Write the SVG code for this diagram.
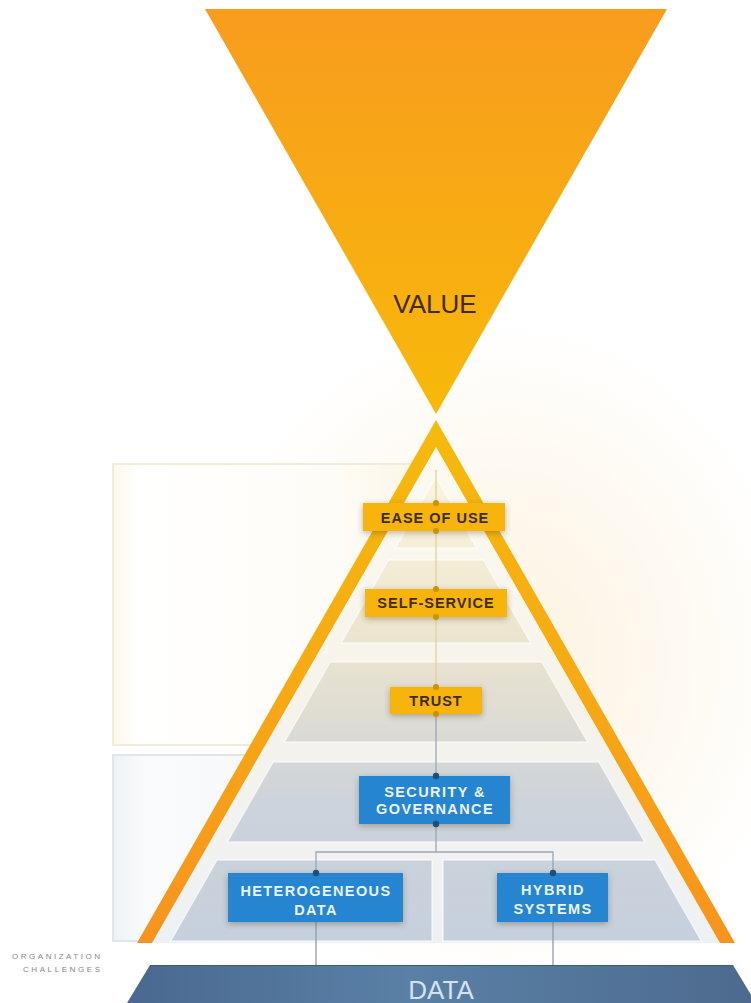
<svg xmlns="http://www.w3.org/2000/svg" width="751" height="1003" viewBox="0 0 751 1003">
  <defs>
    <linearGradient id="gValue" x1="0" y1="9" x2="0" y2="414" gradientUnits="userSpaceOnUse">
      <stop offset="0" stop-color="#f89c1e"/>
      <stop offset="1" stop-color="#f8b90a"/>
    </linearGradient>
    <linearGradient id="gStripe" x1="0" y1="420" x2="0" y2="943" gradientUnits="userSpaceOnUse">
      <stop offset="0" stop-color="#f6ba0c"/>
      <stop offset="0.5" stop-color="#f6aa14"/>
      <stop offset="1" stop-color="#f7931e"/>
    </linearGradient>
    <linearGradient id="gInner" x1="0" y1="447" x2="0" y2="943" gradientUnits="userSpaceOnUse">
      <stop offset="0" stop-color="#fdfaf1"/>
      <stop offset="0.5" stop-color="#f6f3ea"/>
      <stop offset="1" stop-color="#eef1f4"/>
    </linearGradient>
    <linearGradient id="gTier" x1="0" y1="477" x2="0" y2="941" gradientUnits="userSpaceOnUse">
      <stop offset="0" stop-color="#fbf4df"/>
      <stop offset="0.3" stop-color="#efe7cf"/>
      <stop offset="0.5" stop-color="#e0ddd2"/>
      <stop offset="0.7" stop-color="#cdd3db"/>
      <stop offset="1" stop-color="#c6d0dc"/>
    </linearGradient>
    <linearGradient id="gData" x1="0" y1="0" x2="1" y2="0">
      <stop offset="0" stop-color="#4a6890"/>
      <stop offset="0.45" stop-color="#5a80a6"/>
      <stop offset="1" stop-color="#4d6a8e"/>
    </linearGradient>
    <linearGradient id="gRectTop" x1="0" y1="0" x2="1" y2="0">
      <stop offset="0" stop-color="#fbf7ea"/>
      <stop offset="0.08" stop-color="#ffffff"/>
      <stop offset="0.7" stop-color="#fefcf6"/>
      <stop offset="1" stop-color="#fbf4e4"/>
    </linearGradient>
    <linearGradient id="gRectBot" x1="0" y1="0" x2="1" y2="0">
      <stop offset="0" stop-color="#eef2f6"/>
      <stop offset="0.1" stop-color="#fafbfc"/>
      <stop offset="1" stop-color="#f1f3f5"/>
    </linearGradient>
    <radialGradient id="gGlow" cx="0.5" cy="0.5" r="0.5">
      <stop offset="0" stop-color="#fbe9c8" stop-opacity="0.6"/>
      <stop offset="1" stop-color="#fbe9c8" stop-opacity="0"/>
    </radialGradient>
    <filter id="shadow" x="-20%" y="-40%" width="140%" height="180%">
      <feDropShadow dx="0" dy="2" stdDeviation="3" flood-color="#3a3020" flood-opacity="0.35"/>
    </filter>
  </defs>
  <style>
    .lblY { font-family: "Liberation Sans", Arial, sans-serif; font-weight: bold; font-size: 14.5px; fill: #3b2c12; letter-spacing: 1px; text-anchor: middle; }
    .lblB { font-family: "Liberation Sans", Arial, sans-serif; font-weight: bold; font-size: 14.5px; fill: #eaf4ff; letter-spacing: 1.4px; text-anchor: middle; }
    .boxY { fill: #f6b40f; filter: url(#shadow); }
    .boxB { fill: #2785d0; filter: url(#shadow); }
    .dotY { fill: #c99400; }
    .dotB { fill: #1d4f7e; }
    .conn { fill: none; stroke-width: 1.3; }
    .tier { fill: url(#gTier); stroke: #ffffff; stroke-opacity: 0.6; stroke-width: 1.5; }
  </style>

  <rect width="751" height="1003" fill="#ffffff"/>
  <ellipse cx="500" cy="660" rx="300" ry="340" fill="url(#gGlow)"/>

  <g id="side-panels">
    <rect x="113" y="464" width="323" height="281" fill="url(#gRectTop)"/>
    <polyline points="436,464 113,464 113,745 436,745" fill="none" stroke="#f1ecd8" stroke-width="2"/>
    <rect x="113" y="755" width="323" height="186" fill="url(#gRectBot)"/>
    <polyline points="436,755 113,755 113,941 436,941" fill="none" stroke="#e1e6ed" stroke-width="2"/>
  </g>

  <g id="value">
    <polygon points="205,9 667,9 436,414" fill="url(#gValue)"/>
    <text x="435" y="313" font-family="Liberation Sans, Arial, sans-serif" font-size="26" fill="#3f2a08" text-anchor="middle">VALUE</text>
  </g>

  <g id="pyramid">
    <polygon points="436,447 152,943 720,943" fill="url(#gInner)"/>
    <path d="M436,420 L137,943 L735,943 Z M436,447 L720,943 L152,943 Z" fill="url(#gStripe)" fill-rule="evenodd"/>
    <polygon class="tier" points="436,477 476.6,548 395.4,548"/>
    <polygon class="tier" points="388.5,560 483.5,560 530.9,643 341.1,643"/>
    <polygon class="tier" points="330.2,662 541.8,662 587.5,742 284.5,742"/>
    <polygon class="tier" points="273.1,762 598.9,762 644.7,842 227.3,842"/>
    <polygon class="tier" points="217,860 432,860 432,941 170.7,941"/>
    <polygon class="tier" points="443,860 655,860 701.3,941 443,941"/>
  </g>

  <g id="connectors">
    <line class="conn" x1="436" y1="470" x2="436" y2="690" stroke="#e2d19c"/>
    <line class="conn" x1="436" y1="712" x2="436" y2="852" stroke="#9aa7b6"/>
    <polyline class="conn" points="316,873 316,852 553,852 553,873" stroke="#9aa7b6"/>
    <line class="conn" x1="316" y1="920" x2="316" y2="966" stroke="#8e9bab"/>
    <line class="conn" x1="553" y1="920" x2="553" y2="966" stroke="#8e9bab"/>
  </g>

  <g id="ease-of-use">
    <rect class="boxY" x="363" y="503" width="142" height="28"/>
    <circle class="dotY" cx="436" cy="503" r="3"/>
    <circle class="dotY" cx="436" cy="531" r="3"/>
    <text class="lblY" x="435" y="523">EASE OF USE</text>
  </g>
  <g id="self-service">
    <rect class="boxY" x="365" y="589" width="142" height="28"/>
    <circle class="dotY" cx="436" cy="589" r="3"/>
    <circle class="dotY" cx="436" cy="617" r="3"/>
    <text class="lblY" x="436" y="608">SELF-SERVICE</text>
  </g>
  <g id="trust">
    <rect class="boxY" x="390" y="687" width="92" height="27"/>
    <circle class="dotY" cx="436" cy="687" r="3"/>
    <circle class="dotY" cx="436" cy="714" r="3"/>
    <text class="lblY" x="436" y="706">TRUST</text>
  </g>
  <g id="security-governance">
    <rect class="boxB" x="359" y="776" width="151" height="48"/>
    <circle class="dotB" cx="436" cy="776" r="3.2"/>
    <circle class="dotB" cx="436" cy="824" r="3.2"/>
    <text class="lblB" x="435" y="797">SECURITY &amp;</text>
    <text class="lblB" x="435" y="814">GOVERNANCE</text>
  </g>
  <g id="heterogeneous-data">
    <rect class="boxB" x="228" y="873" width="175" height="49"/>
    <circle class="dotB" cx="316" cy="873" r="3.2"/>
    <text class="lblB" x="316" y="896">HETEROGENEOUS</text>
    <text class="lblB" x="316" y="915">DATA</text>
  </g>
  <g id="hybrid-systems">
    <rect class="boxB" x="497" y="873" width="111" height="49"/>
    <circle class="dotB" cx="553" cy="873" r="3.2"/>
    <text class="lblB" x="553" y="895">HYBRID</text>
    <text class="lblB" x="553" y="914">SYSTEMS</text>
  </g>

  <g id="data">
    <polygon points="150,965 733,965 756,1003 127,1003" fill="url(#gData)"/>
    <line x1="150" y1="965.5" x2="733" y2="965.5" stroke="#3e5a7e" stroke-width="1"/>
    <text x="441" y="999" font-family="Liberation Sans, Arial, sans-serif" font-size="26" fill="#d3e3f2" text-anchor="middle">DATA</text>
  </g>

  <g id="org-challenges" font-family="Liberation Sans, Arial, sans-serif" font-size="8" fill="#878787">
    <text x="12" y="959" textLength="88" lengthAdjust="spacing">ORGANIZATION</text>
    <text x="23" y="972" textLength="77" lengthAdjust="spacing">CHALLENGES</text>
  </g>
</svg>
